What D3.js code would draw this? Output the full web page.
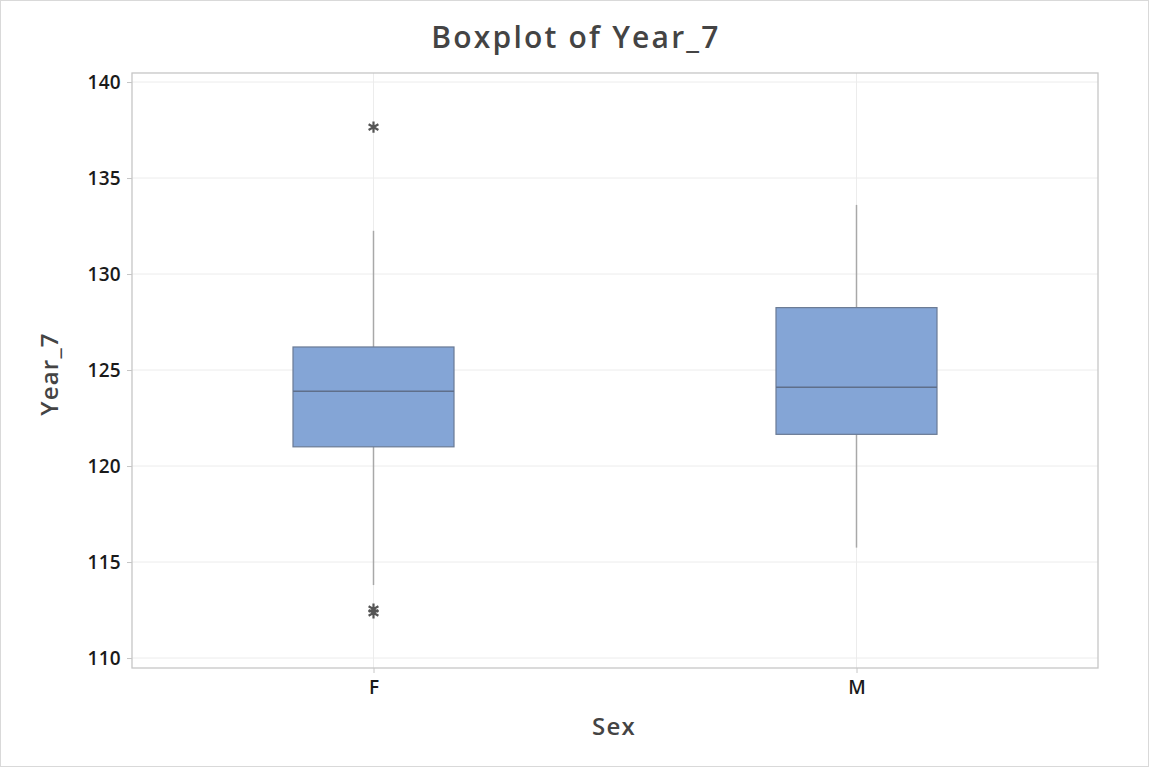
<!DOCTYPE html>
<html><head><meta charset="utf-8">
<script src="https://cdn.jsdelivr.net/npm/d3@7"></script>
<style>body{margin:0;background:#fff}svg{display:block}text{font-family:"Open Sans","Noto Sans",sans-serif}</style>
</head><body><svg id="c" width="1150" height="768"></svg>
<script>
const categories = ["F", "M"];
const q1 = [121.0, 121.65];
const median = [123.9, 124.1];
const q3 = [126.2, 128.25];
const whiskerLow = [113.8, 115.75];
const whiskerHigh = [132.25, 133.6];
const outliers = [[137.65, 112.55, 112.35], []];
const yTicks = [110, 115, 120, 125, 130, 135, 140];

const svg = d3.select("#c");
const L = 132, R = 1098, T = 73, B = 668;
const x = d3.scalePoint().domain(categories).range([L, R]).padding(0.5);
const y = d3.scaleLinear().domain([109.48, 140.47]).range([B, T]);

svg.append("rect").attr("x",0.5).attr("y",0.5).attr("width",1148).attr("height",766)
  .attr("fill","#fff").attr("stroke","#d9d9d9");

// grid
svg.append("g").selectAll("line").data(yTicks).join("line")
  .attr("x1",L).attr("x2",R).attr("y1",d=>y(d)).attr("y2",d=>y(d))
  .attr("stroke","#ececec").attr("stroke-width",1);
svg.append("g").selectAll("line").data(categories).join("line")
  .attr("x1",d=>x(d)).attr("x2",d=>x(d)).attr("y1",T).attr("y2",B)
  .attr("stroke","#ececec").attr("stroke-width",1);

// frame
svg.append("rect").attr("x",L).attr("y",T).attr("width",R-L).attr("height",B-T)
  .attr("fill","none").attr("stroke","#c6c6c6").attr("stroke-width",1.3);

// axes
const ya = svg.append("g").attr("transform",`translate(${L},0)`)
  .call(d3.axisLeft(y).tickValues(yTicks).tickSize(5).tickPadding(6).tickFormat(d3.format("d")));
ya.select(".domain").remove();
ya.selectAll(".tick line").attr("stroke","#c6c6c6");
ya.selectAll(".tick text").attr("fill","#1a1a1a").style("font-size","19px").style("font-weight","600").style("letter-spacing","0.3px");

const xa = svg.append("g").attr("transform",`translate(0,${B})`)
  .call(d3.axisBottom(x).tickSize(5).tickPadding(8));
xa.select(".domain").remove();
xa.selectAll(".tick line").attr("stroke","#c6c6c6");
xa.selectAll(".tick text").attr("fill","#1a1a1a").style("font-size","19px").style("font-weight","600");

const bw = 161;
const data = categories.map((c,i)=>({c,q1:q1[i],med:median[i],q3:q3[i],lo:whiskerLow[i],hi:whiskerHigh[i],out:outliers[i]}));
const g = svg.append("g").selectAll("g").data(data).join("g");
g.append("line").attr("x1",d=>x(d.c)).attr("x2",d=>x(d.c))
  .attr("y1",d=>y(d.hi)).attr("y2",d=>y(d.q3)).attr("stroke","#a8a8a8").attr("stroke-width",1.5);
g.append("line").attr("x1",d=>x(d.c)).attr("x2",d=>x(d.c))
  .attr("y1",d=>y(d.q1)).attr("y2",d=>y(d.lo)).attr("stroke","#a8a8a8").attr("stroke-width",1.5);
g.append("rect").attr("x",d=>x(d.c)-bw/2).attr("width",bw)
  .attr("y",d=>y(d.q3)).attr("height",d=>y(d.q1)-y(d.q3))
  .attr("fill","#84a5d6").attr("stroke","#6a7a94").attr("stroke-width",1.2);
g.append("line").attr("x1",d=>x(d.c)-bw/2).attr("x2",d=>x(d.c)+bw/2)
  .attr("y1",d=>y(d.med)).attr("y2",d=>y(d.med)).attr("stroke","#5f6f8a").attr("stroke-width",1.5);
g.selectAll("path").data(d=>d.out.map(v=>({c:d.c,v}))).join("path")
  .attr("transform",d=>`translate(${x(d.c)},${y(d.v)})`)
  .attr("d",d3.symbol(d3.symbolAsterisk).size(90))
  .attr("stroke","#555").attr("stroke-width",2.2).attr("fill","none");

// titles
svg.append("text").attr("x",576).attr("y",48).attr("text-anchor","middle")
  .attr("fill","#444").style("font-size","30px").style("font-weight","600").style("letter-spacing","2.2px")
  .text("Boxplot of Year_7");
svg.append("text").attr("x",614).attr("y",735).attr("text-anchor","middle")
  .attr("fill","#444").style("font-size","24px").style("font-weight","600").style("letter-spacing","1.2px").text("Sex");
svg.append("text").attr("transform","translate(58,374) rotate(-90)").attr("text-anchor","middle")
  .attr("fill","#444").style("font-size","24px").style("font-weight","600").style("letter-spacing","1.2px").text("Year_7");
</script></body></html>
